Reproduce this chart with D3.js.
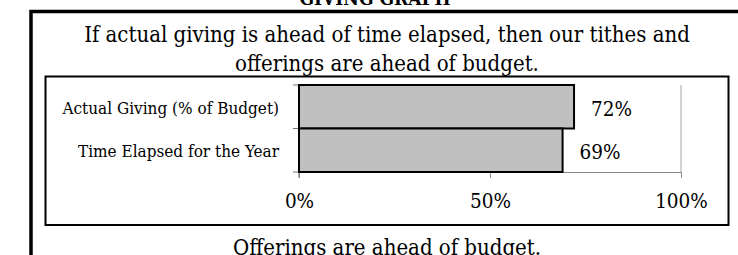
<!DOCTYPE html>
<html>
<head>
<meta charset="utf-8">
<script src="https://cdn.jsdelivr.net/npm/d3@7"></script>
<style>
  body { margin: 0; background: #fff; }
  text { font-family: "DejaVu Serif Condensed", "DejaVu Serif", serif; font-stretch: condensed; fill: #000; }
</style>
</head>
<body>
<div id="chart"></div>
<script>
// giving graph data
var categories = ["Actual Giving (% of Budget)", "Time Elapsed for the Year"];
var values = [0.72, 0.69];
var valueLabels = ["72%", "69%"];
var tickValues = [0, 0.5, 1];

var titleText = "GIVING GRAPH";
var headLines = ["If actual giving is ahead of time elapsed, then our tithes and",
                 "offerings are ahead of budget."];
var footText = "Offerings are ahead of budget.";

var totalWidth = 738, totalHeight = 255;
var plot = {left: 299, right: 681, top: 85, bottom: 172};

var svg = d3.select("#chart").append("svg")
    .attr("width", totalWidth)
    .attr("height", totalHeight);

// outer frame (runs off the page on right / bottom)
svg.append("rect")
    .attr("x", 31).attr("y", 11.5)
    .attr("width", 760).attr("height", 300)
    .style("fill", "none").style("stroke", "#000").style("stroke-width", 3.5);

// inner chart frame
svg.append("rect")
    .attr("x", 45.5).attr("y", 76.5)
    .attr("width", 683).attr("height", 148.5)
    .style("fill", "none").style("stroke", "#000").style("stroke-width", 2);

svg.append("text")
    .attr("x", 375).attr("y", 5)
    .style("text-anchor", "middle")
    .style("font-weight", "bold")
    .style("font-size", "19px")
    .text(titleText);

svg.selectAll(".head")
    .data(headLines)
    .enter().append("text")
    .attr("class", "head")
    .attr("x", 387)
    .attr("y", function(d, i) { return 41.5 + i * 29; })
    .style("text-anchor", "middle")
    .style("font-size", "22px")
    .text(function(d) { return d; });

svg.append("text")
    .attr("x", 387).attr("y", 255)
    .style("text-anchor", "middle")
    .style("font-size", "22px")
    .text(footText);

var x = d3.scaleLinear().domain([0, 1]).range([plot.left, plot.right]);
var y = d3.scaleBand().domain(categories).range([plot.top, plot.bottom]).padding(0);

// gridlines
svg.append("g")
    .selectAll("line")
    .data(tickValues.slice(1))
    .enter().append("line")
    .attr("x1", function(d) { return x(d); })
    .attr("x2", function(d) { return x(d); })
    .attr("y1", plot.top).attr("y2", plot.bottom)
    .style("stroke", "#a6a6a6").style("stroke-width", 1);

var xAxis = svg.append("g")
    .attr("transform", "translate(0," + plot.bottom + ")")
    .call(d3.axisBottom(x).tickValues(tickValues).tickFormat(d3.format(".0%")).tickSizeOuter(0).tickSize(6).tickPadding(15));
xAxis.select(".domain").style("stroke", "#888");
xAxis.selectAll(".tick line").style("stroke", "#888");
xAxis.selectAll(".tick text")
    .style("font-size", "20.5px")
    .style("font-family", "DejaVu Serif Condensed");

// left axis ticks at category boundaries
svg.append("line")
    .attr("x1", plot.left).attr("x2", plot.left)
    .attr("y1", plot.top).attr("y2", plot.bottom + 6)
    .style("stroke", "#777");
svg.selectAll(".ytick")
    .data([plot.top, plot.top + y.bandwidth(), plot.bottom])
    .enter().append("line")
    .attr("class", "ytick")
    .attr("x1", plot.left - 6).attr("x2", plot.left)
    .attr("y1", function(d) { return d; }).attr("y2", function(d) { return d; })
    .style("stroke", "#777");

svg.selectAll(".cat")
    .data(categories)
    .enter().append("text")
    .attr("class", "cat")
    .attr("x", 279)
    .attr("y", function(d) { return y(d) + y.bandwidth() / 2 + 1; })
    .attr("dy", "0.35em")
    .style("text-anchor", "end")
    .style("font-size", "17px")
    .text(function(d) { return d; });

svg.selectAll(".val")
    .data(values)
    .enter().append("text")
    .attr("class", "val")
    .attr("x", function(d) { return x(d) + 17; })
    .attr("y", function(d, i) { return y(categories[i]) + y.bandwidth() / 2 + 2; })
    .attr("dy", "0.35em")
    .style("font-size", "20.5px")
    .text(function(d, i) { return valueLabels[i]; });

svg.selectAll(".bar")
    .data(values)
    .enter().append("rect")
    .attr("class", "bar")
    .attr("x", x(0))
    .attr("y", function(d, i) { return y(categories[i]); })
    .attr("width", function(d) { return x(d) - x(0); })
    .attr("height", y.bandwidth())
    .style("fill", "#c0c0c0")
    .style("stroke", "#000")
    .style("stroke-width", 2);
</script>
</body>
</html>
